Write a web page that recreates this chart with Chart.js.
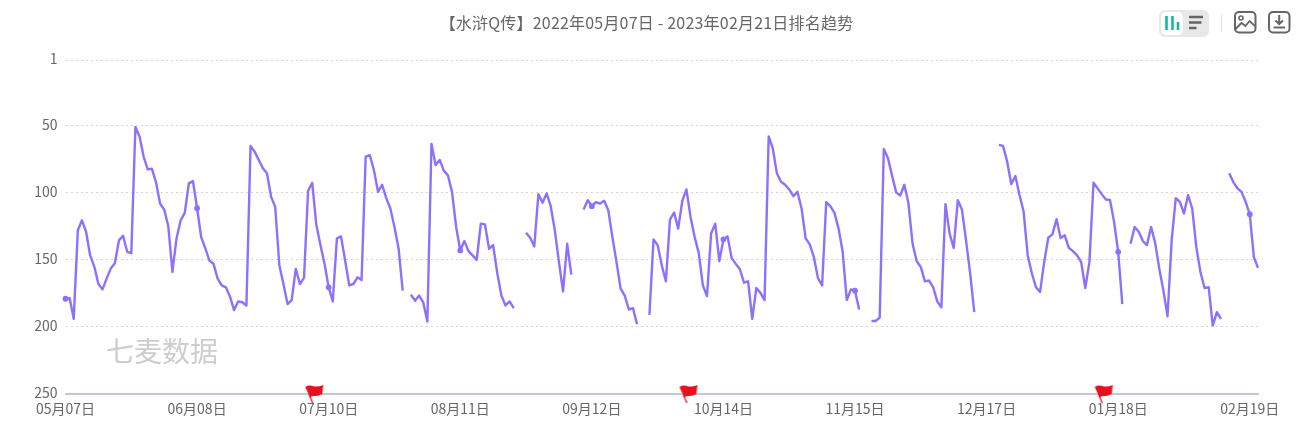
<!DOCTYPE html>
<html lang="zh">
<head>
<meta charset="utf-8">
<title>水浒Q传排名趋势</title>
<script src="https://cdn.jsdelivr.net/npm/chart.js@4/dist/chart.umd.min.js"></script>
<style>
	html, body { margin: 0; padding: 0; background: #fff; overflow: hidden; }
	#wrap { position: relative; width: 1301px; height: 431px; font-family: "Noto Sans CJK SC", "Noto Sans", sans-serif; }
	#chart { position: absolute; left: 0; top: 0; }
	#title { position: absolute; left: 0; width: 1293px; top: 12px; text-align: center; font-size: 16px; line-height: 20px; letter-spacing: 0.2px; color: #666; }
	#mark { position: absolute; left: 106px; top: 331px; font-size: 28px; line-height: 38px; color: #cdcdcd; }
	#tools { position: absolute; left: 0; top: 0; }
</style>
</head>
<body>
<div id="wrap">
	<canvas id="chart" width="1301" height="431"></canvas>
	<div id="title">【水浒Q传】2022年05月07日 - 2023年02月21日排名趋势</div>
	<div id="mark">七麦数据</div>
	<svg id="tools" width="1301" height="45" fill="none">
		<rect x="1159" y="10" width="50" height="27" rx="6" fill="#e8e8e8"/>
		<rect x="1161" y="12" width="22" height="23" rx="5" fill="#fff"/>
		<path d="M1166.5 16v14M1172.5 16v14M1178 22v8" stroke="#14b8a0" stroke-width="2.6"/>
		<path d="M1189 17h14M1189 22.5h12.5M1189 28h7.5" stroke="#666" stroke-width="2.4"/>
		<path d="M1221.5 15v17" stroke="#ddd"/>
		<rect x="1235" y="12" width="20.5" height="20.5" rx="4" stroke="#666" stroke-width="2"/>
		<circle cx="1241" cy="18" r="2" stroke="#666" stroke-width="1.6"/>
		<path d="M1235.5 29l6-6 4 3 4-5 5.5 5" stroke="#666" stroke-width="1.8"/>
		<rect x="1269" y="12" width="20.5" height="20.5" rx="4" stroke="#666" stroke-width="2"/>
		<path d="M1279.2 15v9M1275.5 20.5l3.7 3.7 3.7-3.7M1273.5 27.5h11.5" stroke="#666" stroke-width="2"/>
	</svg>
</div>
<script>
"use strict";

// one label per day, 2022-05-07 .. 2023-02-21
const START_DAY = new Date(2022, 4, 7);
const DAY_COUNT = 291;
const TICK_EVERY = 32;

const xTickLabels = ["05月07日", "06月08日", "07月10日", "08月11日", "09月12日", "10月14日", "11月15日", "12月17日", "01月18日", "02月19日"];
const yTicks = [1, 50, 100, 150, 200, 250];
const flagDays = [60, 151, 252];

const ranks = [
	179, 178.5, 194, 128, 120.5, 129, 146.7, 155, 168, 172,
	164, 156.5, 152.5, 135.5, 132, 144, 145, 51, 58, 73,
	82.5, 82, 92, 108, 112.5, 125, 159, 134, 120.5, 115,
	93, 91.3, 111.5, 133, 141.5, 150.5, 153, 164, 169, 170.5,
	177.4, 187.4, 181, 181.6, 184, 65, 69.3, 75.5, 81.7, 85.5,
	103, 110.5, 154, 168, 183, 180, 156.7, 168, 163.4, 98.5,
	92.5, 124, 139, 153, 170.5, 181, 134, 132.5, 150.5, 169,
	168, 163, 165, 73, 72, 83, 99.3, 94, 104, 111.7,
	125.5, 141.5, 173, null, 176, 180.4, 176.6, 181.7, 196, 63.5,
	79.3, 75.5, 83.5, 87, 99.3, 125.5, 143, 136, 143.5, 146.7,
	150, 123, 123.5, 141.7, 139, 160, 176.6, 184, 181, 186,
	null, null, 129.7, 133.5, 140, 101, 107.5, 100.5, 110, 128,
	151.7, 173.6, 138, 161, null, null, 112.5, 105.5, 110, 107,
	108, 106, 113, 133, 151.7, 171.4, 176.6, 187, 186, 198,
	null, null, 191, 134.7, 139, 154, 166, 120, 114.7, 126.7,
	106, 97.5, 118, 133, 145, 169, 177, 130.4, 123, 151,
	134.7, 132.5, 148.7, 153, 157, 167, 166, 194, 171, 174.6,
	180, 58, 66.8, 85.5, 91.8, 94, 97.5, 102.5, 99.3, 111.7,
	134, 138.5, 148, 163.7, 169, 107, 110, 115, 126.7, 144,
	180, 172, 173, 187, null, null, 195.6, 195.6, 193, 67.3,
	74, 87, 99.7, 102, 94, 108, 138, 151, 155.4, 166,
	165.4, 170.4, 181, 185.4, 108.5, 130.5, 141, 105.5, 112.5, 135.5,
	160, 189, null, null, null, null, null, 64.3, 65, 76.8,
	93.5, 87.5, 101.7, 114, 146.7, 160, 170.4, 174, 151.7, 133.5,
	131, 119.7, 133.7, 131.7, 141, 143.5, 146.7, 151.7, 171, 151.7,
	92.5, 96.7, 101, 105, 105.3, 121.7, 144, 183, null, 138,
	125.5, 129, 136, 139, 125.5, 137.5, 156.7, 173, 192, 135.5,
	104, 106.7, 115.5, 101.7, 111.7, 140.5, 159, 171, 170.4, 199,
	189, 194, null, 85.5, 92, 96.7, 99.3, 106.7, 116, 148,
	156
];

function dayLabel(i){
	const d = new Date(START_DAY.getTime());
	d.setDate(d.getDate() + i);
	return `${d.getMonth() + 1}月${d.getDate()}日`;
}

// small red flag used as the marker on the bottom axis
function makeFlag(){
	const c = document.createElement("canvas");
	c.width = 26;
	c.height = 22;
	const g = c.getContext("2d");
	g.fillStyle = "#e8101c";
	g.beginPath();
	g.moveTo(6, 4);
	g.quadraticCurveTo(10, 1.5, 15, 3.5);
	g.quadraticCurveTo(20, 4, 24, 2);
	g.lineTo(23, 11);
	g.quadraticCurveTo(19, 13.5, 15, 13);
	g.quadraticCurveTo(12, 12.5, 11, 15);
	g.closePath();
	g.fill();
	g.strokeStyle = "#e8101c";
	g.lineWidth = 1.2;
	g.beginPath();
	g.moveTo(10, 12);
	g.lineTo(13.5, 20);
	g.stroke();
	return c;
}

const labels = [];
const flagData = [];
for (let i = 0; i < DAY_COUNT; i++){
	labels.push(dayLabel(i));
	flagData.push(flagDays.includes(i) ? 250 : null);
}

new Chart(document.querySelector("#chart").getContext("2d"), {
	type: "line",
	data: {
		labels: labels,
		datasets: [{
			label: "排名",
			data: ranks,
			borderColor: "#8c70ff",
			backgroundColor: "#8c70ff",
			borderWidth: 2.4,
			borderJoinStyle: "round",
			tension: 0,
			spanGaps: false,
			pointRadius: ctx => ctx.dataIndex % TICK_EVERY === 0 ? 1.7 : 0,
			pointHoverRadius: 3
		}, {
			label: "事件",
			data: flagData,
			showLine: false,
			clip: false,
			pointStyle: makeFlag(),
			pointRadius: 10
		}]
	},
	options: {
		responsive: false,
		animation: false,
		layout: {
			padding: { top: 60, right: 43, bottom: 0, left: 0 }
		},
		plugins: {
			legend: { display: false },
			tooltip: { enabled: false }
		},
		scales: {
			x: {
				afterFit: s => { s.height = 37; },
				grid: { display: false, drawTicks: false },
				border: { color: "#c3c8d4", width: 2 },
				ticks: {
					autoSkip: false,
					maxRotation: 0,
					padding: 6,
					color: "#666",
					font: { size: 14, family: '"Noto Sans CJK SC", sans-serif' },
					callback: (value, index) => index % TICK_EVERY === 0 ? xTickLabels[index / TICK_EVERY] : null
				}
			},
			y: {
				reverse: true,
				min: 1,
				max: 250,
				afterFit: s => { s.width = 65.5; },
				afterBuildTicks: s => { s.ticks = yTicks.map(v => ({ value: v })); },
				border: { display: false, dash: [2, 3] },
				grid: {
					color: "#d4d4d4",
					drawTicks: false,
					lineWidth: 1
				},
				ticks: {
					padding: 8,
					labelOffset: -1.5,
					color: "#666",
					font: { size: 14, family: '"Noto Sans CJK SC", sans-serif' }
				}
			}
		}
	}
});
</script>
</body>
</html>
